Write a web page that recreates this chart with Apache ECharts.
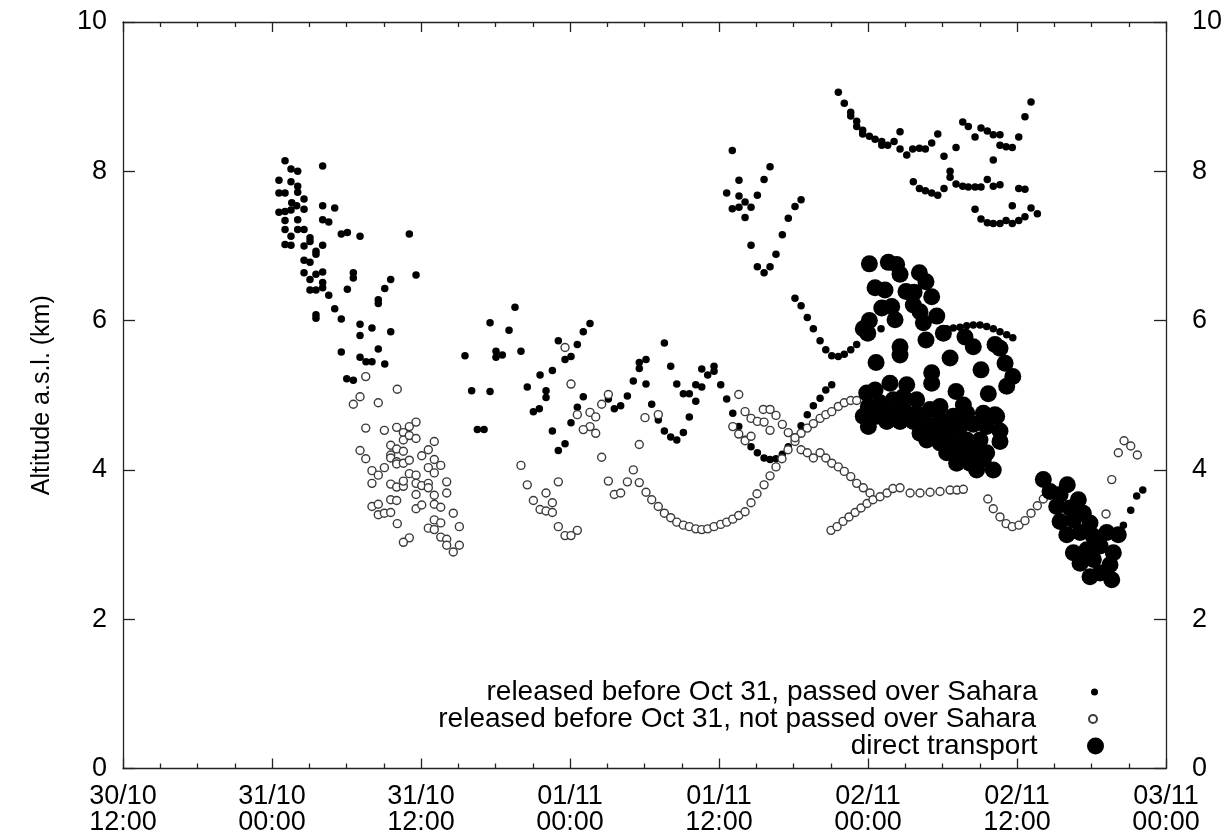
<!DOCTYPE html>
<html><head><meta charset="utf-8">
<script src="https://cdn.jsdelivr.net/npm/echarts@6/dist/echarts.min.js"></script>
<style>html,body{margin:0;padding:0;background:#fff}#c{width:1227px;height:836px}</style>
</head><body><div id="c"></div>
<script>
// x values: hours since 30/10 12:00 ; y values: altitude (km)
const xTickLabels = ['30/10\n12:00','31/10\n00:00','31/10\n12:00','01/11\n00:00','01/11\n12:00','02/11\n00:00','02/11\n12:00','03/11\n00:00'];
const seriesNames = ['released before Oct 31, passed over Sahara','released before Oct 31, not passed over Sahara','direct transport'];

const passedSahara = [
[13.05,8.14],[16.08,8.07],[13.53,8.03],[14.07,8.00],[12.56,7.88],[13.53,7.86],[14.07,7.80],[12.56,7.71],[13.05,7.71],[14.07,7.72],[14.58,7.63],[13.59,7.58],[13.99,7.54],[12.56,7.45],[13.05,7.46],[13.53,7.48],[14.58,7.49],[16.08,7.54],[17.05,7.51],[13.05,7.34],[14.07,7.35],[16.08,7.35],[16.57,7.32],[13.05,7.22],[14.07,7.22],[14.58,7.22],[17.58,7.16],[18.07,7.18],[19.09,7.13],[23.06,7.16],[13.53,7.13],[15.06,7.11],[13.05,7.02],[13.53,7.01],[14.58,7.00],[15.06,7.06],[16.08,7.01],[15.54,6.93],[15.54,6.89],[14.58,6.81],[15.06,6.78],[14.58,6.64],[15.54,6.62],[16.08,6.65],[18.55,6.64],[18.55,6.57],[23.60,6.61],[21.56,6.55],[15.06,6.55],[16.08,6.51],[15.06,6.41],[15.54,6.41],[16.08,6.44],[16.57,6.34],[18.07,6.42],[21.08,6.43],[20.56,6.28],[20.56,6.23],[17.05,6.16],[15.54,6.08],[15.54,6.03],[17.58,6.02],[19.09,5.95],[20.05,5.90],[21.56,5.85],[19.09,5.80],[17.58,5.58],[20.56,5.62],[19.09,5.51],[19.57,5.45],[20.05,5.45],[21.08,5.42],[27.54,5.53],[18.02,5.22],[18.55,5.20],[28.08,5.06],[28.54,4.54],[29.08,4.54],
[31.57,6.18],[29.56,5.97],[31.09,5.87],[37.61,5.96],[37.07,5.85],[35.06,5.73],[36.59,5.68],[30.04,5.59],[30.04,5.51],[30.55,5.54],[32.05,5.59],[35.60,5.48],[36.08,5.52],[33.59,5.27],[34.58,5.33],[32.56,5.11],[29.56,5.05],[34.07,5.06],[34.07,4.97],[33.05,4.78],[33.53,4.82],[37.07,4.98],[36.59,4.84],[36.08,4.63],[34.58,4.52],[35.60,4.35],[35.06,4.26],
[39.09,4.95],[39.57,4.82],[40.08,4.86],[40.62,4.99],[41.10,5.19],[41.58,5.44],[41.58,5.36],[42.12,5.48],[43.60,5.70],[42.12,5.15],[42.58,4.88],[43.11,4.72],[43.11,4.67],[44.11,5.39],[43.60,4.52],[44.11,4.44],[44.60,4.40],[45.13,4.50],[45.61,4.71],[44.60,5.15],[45.13,5.02],[45.61,5.02],[46.13,5.14],[46.13,4.92],[46.61,5.11],[46.61,5.35],[47.09,5.27],[47.60,5.39],[47.60,5.32],[48.14,5.14],[48.62,4.95],[49.11,4.76],[49.59,4.58],[50.10,4.41],
[49.07,8.28],[52.11,8.06],[49.61,7.88],[51.63,7.89],[48.62,7.71],[49.61,7.67],[51.09,7.68],[50.10,7.59],[49.07,7.50],[49.61,7.52],[50.58,7.52],[50.10,7.38],[54.61,7.62],[54.12,7.53],[53.58,7.37],[53.10,7.15],[50.58,7.01],[52.59,6.89],[51.09,6.72],[52.11,6.72],[51.63,6.64],[54.12,6.30],[54.61,6.20],[55.11,6.04],[55.60,5.89],[56.14,5.73],[56.60,5.61],[57.08,5.53],[57.61,5.52],[58.09,5.55],[58.61,5.61],[59.09,5.68],
[50.58,4.31],[51.09,4.23],[51.63,4.16],[52.11,4.14],[52.59,4.15],[53.10,4.21],[53.58,4.31],[54.12,4.44],[54.61,4.59],[55.11,4.74],[55.60,4.86],[56.14,4.96],[56.60,5.07],[57.08,5.14],
[61.05,5.89],[66.34,5.89],[66.87,5.90],[67.41,5.91],[67.95,5.93],[68.48,5.94],[69.02,5.94],[69.56,5.92],[70.09,5.89],[70.63,5.85],[71.17,5.81],[71.66,5.77],
[57.61,9.06],[58.09,8.91],[58.61,8.79],[58.61,8.74],[59.09,8.67],[59.09,8.60],[59.57,8.55],[59.57,8.50],[60.11,8.47],[60.57,8.43],[61.11,8.40],[61.11,8.35],[61.59,8.35],[62.10,8.40],[62.58,8.53],[62.58,8.30],[63.12,8.22],[63.60,8.30],[64.14,8.31],[64.62,8.30],[65.13,8.38],[65.62,8.50],[66.12,8.20],[66.61,8.00],[66.61,7.92],[67.09,8.32],[67.63,8.66],[68.08,8.60],[68.62,8.46],[69.10,8.58],[69.61,8.54],[70.09,8.49],[70.63,8.49],[70.63,8.35],[71.12,8.33],[71.62,8.32],[72.14,8.46],[72.64,8.73],[73.13,8.93],[70.09,8.15],
[63.65,7.86],[64.14,7.77],[64.62,7.74],[65.13,7.71],[65.62,7.68],[66.12,7.77],[67.09,7.83],[67.63,7.80],[68.08,7.79],[68.62,7.79],[69.10,7.79],[69.61,7.89],[70.09,7.80],[70.63,7.82],[72.14,7.77],[72.64,7.76],
[68.62,7.49],[69.10,7.36],[69.61,7.31],[70.09,7.30],[70.63,7.30],[71.12,7.34],[71.62,7.30],[72.14,7.34],[72.64,7.39],[73.13,7.51],[73.64,7.43],[71.62,7.54],
[80.57,3.26],[81.16,3.46],[81.64,3.65],[82.13,3.73]
];

const notPassedSahara = [
[19.55,5.25],[22.09,5.08],[19.09,4.98],[18.55,4.88],[20.56,4.90],[19.55,4.56],[21.05,4.53],[22.04,4.57],[22.58,4.50],[23.06,4.58],[23.60,4.64],[22.58,4.40],[23.06,4.46],[23.60,4.42],[25.07,4.38],[19.09,4.26],[19.55,4.15],[21.56,4.33],[22.04,4.28],[22.58,4.25],[21.56,4.20],[21.56,4.16],[22.04,4.11],[22.04,4.08],[22.58,4.09],[23.06,4.13],[24.06,4.19],[24.59,4.27],[25.07,4.14],[24.59,4.03],[25.59,4.06],[25.07,3.96],[20.05,3.99],[21.05,4.03],[20.56,3.93],[23.06,3.95],[23.60,3.93],[20.05,3.82],[21.56,3.81],[22.04,3.77],[22.58,3.78],[22.58,3.85],[23.60,3.82],[24.06,3.79],[24.59,3.82],[24.59,3.76],[26.07,3.84],[23.60,3.67],[25.07,3.66],[26.07,3.69],[21.56,3.60],[22.04,3.59],[20.05,3.51],[20.56,3.54],[20.56,3.40],[21.05,3.42],[21.56,3.43],[23.60,3.48],[24.06,3.53],[25.07,3.54],[25.59,3.50],[26.60,3.42],[22.09,3.28],[24.59,3.22],[25.07,3.33],[25.59,3.29],[25.07,3.20],[27.09,3.24],[23.06,3.09],[22.58,3.03],[25.59,3.10],[26.07,3.07],[26.07,2.99],[27.09,2.99],[26.60,2.90],
[35.60,5.64],[36.08,5.15],[39.09,5.01],[38.55,4.88],[36.59,4.74],[37.61,4.77],[38.07,4.71],[37.61,4.58],[37.07,4.54],[38.07,4.49],[42.04,4.70],[43.11,4.74],[41.58,4.34],[38.55,4.17],[32.05,4.06],[32.56,3.80],[35.06,3.84],[34.07,3.69],[33.05,3.59],[34.58,3.56],[33.59,3.47],[34.07,3.45],[34.58,3.43],[35.06,3.24],[35.60,3.12],[36.08,3.12],[36.59,3.19],
[39.09,3.85],[39.57,3.67],[40.08,3.69],[40.62,3.84],[41.10,4.00],[41.58,3.83],[42.12,3.70],[42.58,3.60],[43.11,3.51],[43.60,3.42],[44.11,3.36],[44.60,3.30],[45.13,3.26],[45.61,3.24],[46.13,3.21],[46.61,3.20],[47.09,3.21],[47.60,3.24],[48.14,3.27],[48.62,3.30],[49.11,3.34],[49.59,3.39],[50.10,3.44],
[49.59,5.01],[50.10,4.78],[49.11,4.58],[49.59,4.48],
[50.58,3.56],[51.06,3.68],[51.63,3.80],[52.11,3.92],[52.59,4.04],[53.07,4.15],[53.56,4.27],[54.12,4.38],[54.61,4.49],[55.11,4.56],[55.60,4.62],[56.14,4.69],[56.60,4.74],[57.08,4.78],[57.61,4.85],[58.09,4.90],[58.61,4.93],[59.09,4.93],
[50.58,4.69],[51.09,4.65],[51.57,4.81],[52.11,4.81],[52.59,4.73],[51.63,4.64],[52.11,4.53],[53.10,4.61],[53.58,4.50],[54.12,4.43],[54.61,4.27],[55.11,4.23],[55.60,4.16],[56.14,4.23],[56.60,4.16],[57.08,4.09],[57.61,4.04],[58.09,3.98],[58.61,3.91],[59.09,3.82],[59.62,3.76],[60.16,3.69],[50.10,4.39],[50.58,4.45],
[57.02,3.19],[57.51,3.24],[57.99,3.31],[58.47,3.37],[58.96,3.43],[59.44,3.49],[59.92,3.55],[60.40,3.60],[60.97,3.64],[61.53,3.69],[62.01,3.75],[62.58,3.76],[63.39,3.69],[64.19,3.69],[65.00,3.70],[65.80,3.71],[66.61,3.73],[67.17,3.73],[67.68,3.74],
[69.65,3.61],[70.09,3.48],[70.63,3.37],[71.12,3.28],[71.62,3.24],[72.16,3.26],[72.64,3.32],[73.13,3.42],[73.64,3.52],[74.12,3.61],[74.58,3.69],[79.17,3.41],[79.63,3.87],[80.16,4.23],[80.62,4.39],[81.16,4.32],[81.69,4.20]
];

const directTransport = [
[60.11,6.76],[61.64,6.78],[62.31,6.75],[62.58,6.62],[64.14,6.64],[64.67,6.52],[60.57,6.44],[61.37,6.41],[63.06,6.39],[63.71,6.38],[65.13,6.32],[61.11,6.17],[61.91,6.19],[62.18,6.01],[63.65,6.21],[64.19,6.12],[65.54,6.06],[60.11,6.00],[59.62,5.89],[59.98,5.83],[64.46,5.97],[64.67,5.74],[66.07,5.83],[67.81,5.78],[68.48,5.65],[70.23,5.68],[70.63,5.63],[62.58,5.65],[62.58,5.54],[60.65,5.44],[66.61,5.50],[69.10,5.34],[71.04,5.43],[71.66,5.25],[65.13,5.30],[65.13,5.16],[71.17,5.12],[69.69,5.02],[67.09,5.05],[67.68,4.87],
[59.90,5.03],[60.57,5.07],[61.77,5.16],[63.12,5.14],[60.03,4.85],[60.97,4.90],[62.04,4.94],[62.85,4.98],[63.92,4.94],[59.62,4.72],[60.70,4.72],[61.77,4.76],[62.85,4.81],[63.92,4.76],[65.00,4.81],[65.80,4.85],[60.03,4.58],[61.51,4.65],[62.58,4.65],[63.65,4.65],[64.73,4.61],[65.80,4.67],[66.87,4.72],[67.95,4.76],[69.29,4.76],[70.23,4.74],[64.19,4.49],[65.26,4.49],[66.34,4.54],[67.41,4.58],[68.48,4.61],[69.56,4.58],[70.63,4.52],[64.73,4.40],[65.80,4.36],[66.87,4.40],[67.95,4.40],[69.02,4.40],[70.63,4.38],[66.34,4.23],[67.41,4.23],[68.48,4.27],[69.56,4.23],[67.14,4.09],[68.22,4.09],[69.29,4.14],[70.09,4.00],[68.75,4.00],[70.36,4.72],
[74.12,3.87],[76.05,3.80],[74.66,3.71],[75.47,3.67],[76.94,3.60],[75.20,3.51],[76.27,3.49],[77.34,3.42],[75.47,3.31],[76.54,3.33],[77.88,3.29],[76.01,3.13],[77.08,3.16],[78.15,3.11],[80.16,3.13],[79.23,3.16],[76.54,2.89],[77.62,2.93],[78.69,2.98],[79.76,2.89],[77.08,2.75],[78.15,2.80],[79.49,2.73],[77.88,2.57],[78.69,2.62],[79.63,2.53]
];

const font = '"Liberation Sans", Arial, Helvetica, sans-serif';
const axisColor = '#222';
const chart = echarts.init(document.getElementById('c'), null, {renderer: 'canvas'});

function xAxisDef(pos) {
  return {
    type: 'value', min: 0, max: 84, interval: 12, position: pos,
    axisLine: {show: true, onZero: false, lineStyle: {color: axisColor, width: 1.3}},
    axisTick: {show: true, inside: true, length: 10, lineStyle: {color: axisColor, width: 1.3}},
    minorTick: {show: true, splitNumber: 4, length: 5, lineStyle: {color: axisColor, width: 1.3}},
    splitLine: {show: false}, minorSplitLine: {show: false},
    axisLabel: pos === 'bottom' ? {
      show: true, color: '#000', fontSize: 27, lineHeight: 26, margin: 15, fontFamily: font,
      formatter: v => xTickLabels[Math.round(v / 12)]
    } : {show: false}
  };
}
function yAxisDef(pos) {
  const d = {
    type: 'value', min: 0, max: 10, interval: 2, position: pos,
    axisLine: {show: true, onZero: false, lineStyle: {color: axisColor, width: 1.3}},
    axisTick: {show: true, inside: true, length: 12, lineStyle: {color: axisColor, width: 1.3}},
    splitLine: {show: false},
    axisLabel: {show: true, color: '#000', fontSize: 27, margin: pos === 'left' ? 16 : 26, fontFamily: font}
  };
  if (pos === 'left') {
    d.name = 'Altitude a.s.l. (km)';
    d.nameLocation = 'middle';
    d.nameGap = 68;
    d.nameTextStyle = {color: '#000', fontSize: 25, fontFamily: font};
  }
  return d;
}

const legendTops = [678, 705, 732];
const legendItemH = [7, 8, 17];
const legendItemW = [104, 104, 106];
const legendRight = [129, 129, 123];

chart.setOption({
  animation: false,
  backgroundColor: '#fff',
  grid: {left: 123, right: 61, top: 22, bottom: 67, containLabel: false},
  xAxis: [xAxisDef('bottom'), xAxisDef('top')],
  yAxis: [yAxisDef('left'), yAxisDef('right')],
  legend: seriesNames.map((n, i) => ({
    data: [n], orient: 'vertical', align: 'right', padding: 0, selectedMode: false,
    right: legendRight[i], top: legendTops[i],
    itemWidth: legendItemW[i], itemHeight: legendItemH[i],
    textStyle: {fontSize: 28, color: '#000', fontFamily: font}
  })),
  series: [
    {name: seriesNames[0], type: 'scatter', data: passedSahara, symbol: 'circle', symbolSize: 7.5,
     itemStyle: {color: '#000', opacity: 1}, silent: true, z: 2},
    {name: seriesNames[1], type: 'scatter', data: notPassedSahara, symbol: 'circle', symbolSize: 8,
     itemStyle: {color: '#fff', borderColor: '#3a3a3a', borderWidth: 1.4, opacity: 1}, silent: true, z: 3},
    {name: seriesNames[2], type: 'scatter', data: directTransport, symbol: 'circle', symbolSize: 17,
     itemStyle: {color: '#000', opacity: 1}, silent: true, z: 4}
  ]
});
</script></body></html>
